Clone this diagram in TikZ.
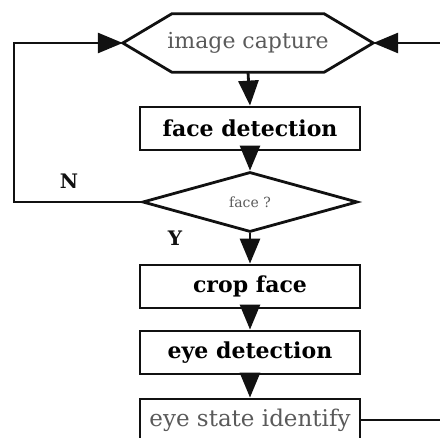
\documentclass[tikz,border=0pt]{standalone}
\usepackage{fontspec}
\setmainfont{DejaVu Serif}
\usetikzlibrary{arrows.meta,shapes.geometric}
\definecolor{ink}{HTML}{111111}
\definecolor{softink}{HTML}{5A5A5A}
\tikzset{
  every picture/.style={x=1pt,y=-1pt},
  line/.style={draw=ink,line width=2.8pt},
  flow/.style={line,-{Triangle[length=25pt,width=20pt]}},
  procbox/.style={draw=ink,line width=2.8pt,rectangle,minimum width=220pt,
    minimum height=43pt,inner sep=0pt,font=\fontsize{22}{26}\selectfont\bfseries},
  softlabel/.style={text=softink,font=\fontsize{22}{26}\selectfont},
  answer/.style={text=ink,font=\fontsize{20}{24}\selectfont\bfseries}
}
\begin{document}
\begin{tikzpicture}
  \useasboundingbox (0,0) rectangle (440,438);
  \clip (0,0) rectangle (440,438);

  % start of the loop: hexagonal capture step
  \node[minimum width=250pt,minimum height=58pt,inner sep=0pt,softlabel] (cap) at (248,43) {image capture};
  \draw[line,line join=miter]
    (cap.west) -- ([xshift=49pt]cap.north west) -- ([xshift=-49pt]cap.north east)
    -- (cap.east) -- ([xshift=-49pt]cap.south east) -- ([xshift=49pt]cap.south west) -- cycle;

  \node[procbox] (det) at (250,128.5) {face detection};

  % decision
  \node[diamond,draw=ink,line width=2.8pt,minimum width=215pt,minimum height=60pt,
        inner sep=0pt,aspect=3.6,text=softink,font=\fontsize{14}{16}\selectfont] (dec) at (250,202) {face ?};

  \node[procbox] (crop) at (250,286.5) {crop face};
  \node[procbox] (eye) at (250,352.5) {eye detection};
  \node[procbox,font=\fontsize{23}{27}\selectfont,text=softink,minimum height=42pt] (state) at (250,420) {eye state identify};

  \coordinate (corner) at (14,202);
  \coordinate (feedin) at (440,43);
  \coordinate (feedout) at (440,420);

  % main flow
  \draw[flow] (cap.south) -- (det.north);
  \draw[flow] (det.south) -- (dec.north);
  \draw[flow] (dec.south) -- (crop.north);
  \draw[flow] (crop.south) -- (eye.north);
  \draw[flow] (eye.south) -- (state.north);

  % no face: back to capture
  \draw[flow] (dec.west) -- (corner) |- (cap.west);
  \draw[flow] (feedin) -- (cap.east);
  \draw[line] (state.east) -- (feedout);

  \node[answer] (no) at (69,181) {N};
  \node[answer] (yes) at (175,238) {Y};
\end{tikzpicture}
\end{document}
